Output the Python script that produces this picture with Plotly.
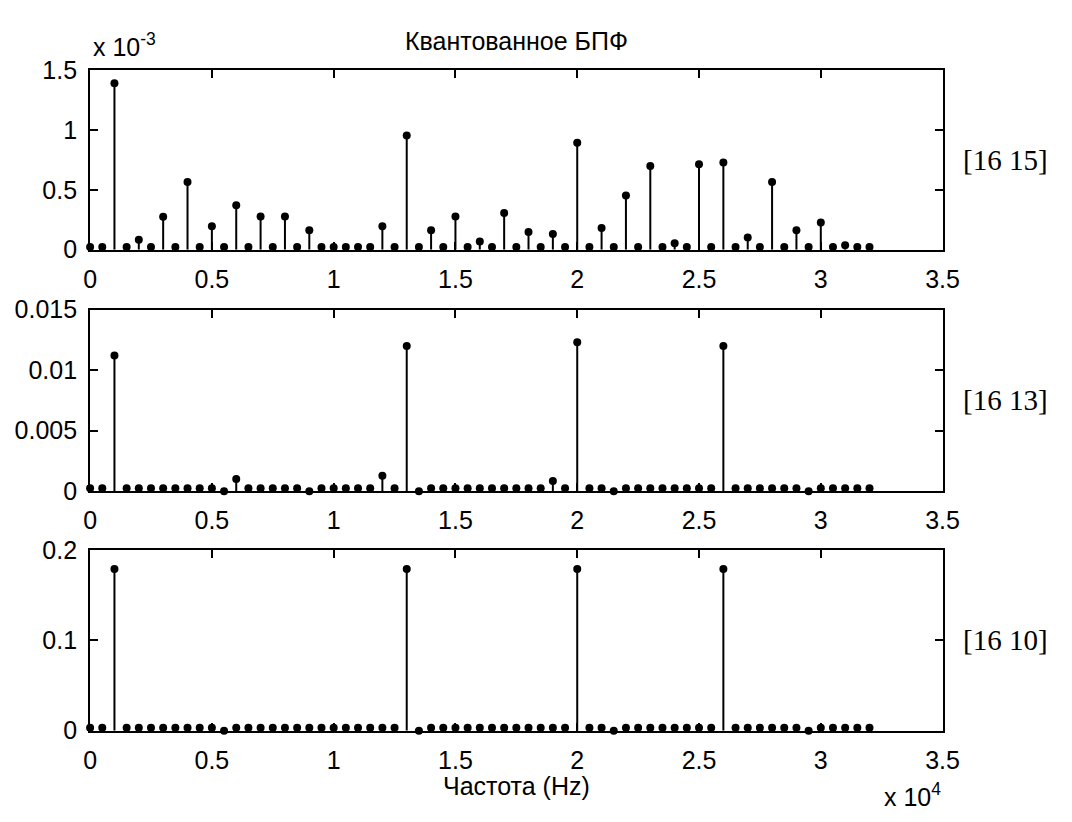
import plotly.graph_objects as go

# Frequency bins of the spectrum, Hz
FREQ_HZ = [
    0, 500, 1000, 1500, 2000, 2500, 3000, 3500, 4000, 4500,
    5000, 5500, 6000, 6500, 7000, 7500, 8000, 8500, 9000, 9500,
    10000, 10500, 11000, 11500, 12000, 12500, 13000, 13500, 14000, 14500,
    15000, 15500, 16000, 16500, 17000, 17500, 18000, 18500, 19000, 19500,
    20000, 20500, 21000, 21500, 22000, 22500, 23000, 23500, 24000, 24500,
    25000, 25500, 26000, 26500, 27000, 27500, 28000, 28500, 29000, 29500,
    30000, 30500, 31000, 31500, 32000,
]

# Quantizer [16 15], magnitudes in units of 1e-3
AMP_16_15 = [
    0.022, 0.022, 1.390, 0.022, 0.083, 0.022, 0.275, 0.022, 0.566, 0.022,
    0.195, 0.022, 0.372, 0.022, 0.277, 0.022, 0.277, 0.022, 0.163, 0.022,
    0.022, 0.022, 0.022, 0.022, 0.195, 0.022, 0.954, 0.022, 0.163, 0.022,
    0.277, 0.022, 0.068, 0.022, 0.306, 0.022, 0.148, 0.022, 0.130, 0.022,
    0.892, 0.022, 0.180, 0.022, 0.453, 0.022, 0.698, 0.022, 0.053, 0.022,
    0.714, 0.022, 0.728, 0.022, 0.101, 0.022, 0.566, 0.022, 0.163, 0.022,
    0.228, 0.022, 0.036, 0.022, 0.022,
]

# Quantizer [16 13]
AMP_16_13 = [
    0.00024, 0.00024, 0.01120, 0.00024, 0.00024, 0.00024, 0.00024, 0.00024, 0.00024, 0.00024,
    0.00024, 0.0, 0.00100, 0.00024, 0.00024, 0.00024, 0.00024, 0.00024, 0.0, 0.00024,
    0.00024, 0.00024, 0.00024, 0.00024, 0.00128, 0.00024, 0.01200, 0.0, 0.00024, 0.00024,
    0.00024, 0.00024, 0.00024, 0.00024, 0.00024, 0.00024, 0.00024, 0.00024, 0.00085, 0.00024,
    0.01230, 0.00024, 0.00024, 0.0, 0.00024, 0.00024, 0.00024, 0.00024, 0.00024, 0.00024,
    0.00024, 0.00024, 0.01200, 0.00024, 0.00024, 0.00024, 0.00024, 0.00024, 0.00024, 0.0,
    0.00024, 0.00024, 0.00024, 0.00024, 0.00024,
]

# Quantizer [16 10]
AMP_16_10 = [
    0.0032, 0.0032, 0.179, 0.0032, 0.0032, 0.0032, 0.0032, 0.0032, 0.0032, 0.0032,
    0.0032, 0.0, 0.0032, 0.0032, 0.0032, 0.0032, 0.0032, 0.0032, 0.0032, 0.0032,
    0.0032, 0.0032, 0.0032, 0.0032, 0.0032, 0.0032, 0.179, 0.0, 0.0032, 0.0032,
    0.0032, 0.0032, 0.0032, 0.0032, 0.0032, 0.0032, 0.0032, 0.0032, 0.0032, 0.0032,
    0.179, 0.0032, 0.0032, 0.0, 0.0032, 0.0032, 0.0032, 0.0032, 0.0032, 0.0032,
    0.0032, 0.0032, 0.179, 0.0032, 0.0032, 0.0032, 0.0032, 0.0032, 0.0032, 0.0,
    0.0032, 0.0032, 0.0032, 0.0032, 0.0032,
]

X_TICKS = [0, 5000, 10000, 15000, 20000, 25000, 30000, 35000]
X_TICK_TEXT = ["0", "0.5", "1", "1.5", "2", "2.5", "3", "3.5"]

Y_TICKS = [
    [0, 0.5, 1.0, 1.5],
    [0, 0.005, 0.01, 0.015],
    [0, 0.1, 0.2],
]
Y_TICK_TEXT = [
    ["0", "0.5", "1", "1.5"],
    ["0", "0.005", "0.01", "0.015"],
    ["0", "0.1", "0.2"],
]
Y_RANGES = [[0, 1.5], [0, 0.015], [0, 0.2]]
PANEL_LABELS = ["[16 15]", "[16 13]", "[16 10]"]
SERIES = [AMP_16_15, AMP_16_13, AMP_16_10]

W, H = 1072, 822
X_LEFT, X_RIGHT = 85, 957
PANEL_PX = [(58, 244), (306, 494), (555, 742)]  # (top, bottom) in pixels

SANS = "Liberation Sans"
SERIF = "Liberation Serif"
FS = 25


def py(p):
    return 1 - p / H


def px(p):
    return p / W


fig = go.Figure()

for k, amps in enumerate(SERIES):
    ax = "" if k == 0 else str(k + 1)
    xs, ys = [], []
    for f, a in zip(FREQ_HZ, amps):
        xs += [f, f, None]
        ys += [0, a, None]
    fig.add_trace(go.Scatter(
        x=xs, y=ys, mode="lines", xaxis="x" + ax, yaxis="y" + ax,
        line=dict(color="black", width=2), hoverinfo="skip", showlegend=False,
    ))
    fig.add_trace(go.Scatter(
        x=FREQ_HZ, y=amps, mode="markers", xaxis="x" + ax, yaxis="y" + ax,
        marker=dict(color="black", size=8, line=dict(width=0)),
        cliponaxis=False, showlegend=False,
    ))

    top, bot = PANEL_PX[k]
    axis_common = dict(
        showline=True, linecolor="black", linewidth=2, mirror="ticks",
        ticks="inside", ticklen=8, tickcolor="black", tickwidth=2,
        showgrid=False, zeroline=False, ticklabelstandoff=6,
        tickfont=dict(family=SANS, size=FS, color="black"),
    )
    fig.update_layout(**{
        "xaxis" + ax: dict(
            domain=[px(X_LEFT), px(X_RIGHT)], range=[0, 35000],
            tickvals=X_TICKS, ticktext=X_TICK_TEXT,
            anchor="y" + ax, **axis_common,
        ),
        "yaxis" + ax: dict(
            domain=[py(bot), py(top)], range=Y_RANGES[k],
            tickvals=Y_TICKS[k], ticktext=Y_TICK_TEXT[k],
            anchor="x" + ax, **axis_common,
        ),
    })
    fig.add_annotation(
        x=px(976), y=py((top + bot) / 2), xref="paper", yref="paper",
        text=PANEL_LABELS[k], showarrow=False, xanchor="left", yanchor="middle",
        font=dict(family=SERIF, size=29, color="black"),
    )

fig.add_annotation(
    x=px((X_LEFT + X_RIGHT) / 2), y=py(28), xref="paper", yref="paper",
    text="Квантованное БПФ", showarrow=False, xanchor="center", yanchor="middle",
    font=dict(family=SANS, size=FS, color="black"),
)
fig.add_annotation(
    x=px(86), y=py(51), xref="paper", yref="paper",
    text="x 10<sup>-3</sup>", showarrow=False, xanchor="left", yanchor="bottom",
    font=dict(family=SANS, size=FS, color="black"),
)
fig.add_annotation(
    x=px((X_LEFT + X_RIGHT) / 2), y=py(799), xref="paper", yref="paper",
    text="Частота (Hz)", showarrow=False, xanchor="center", yanchor="middle",
    font=dict(family=SANS, size=FS, color="black"),
)
fig.add_annotation(
    x=px(957), y=py(827), xref="paper", yref="paper",
    text="x 10<sup>4</sup>", showarrow=False, xanchor="right", yanchor="bottom",
    font=dict(family=SANS, size=FS, color="black"),
)

fig.update_layout(
    width=W, height=H, margin=dict(l=0, r=0, t=0, b=0),
    paper_bgcolor="white", plot_bgcolor="white", showlegend=False,
)

fig.write_html(
    "out.html",
    post_script="document.body.style.margin='0';document.body.style.overflow='hidden';",
)
